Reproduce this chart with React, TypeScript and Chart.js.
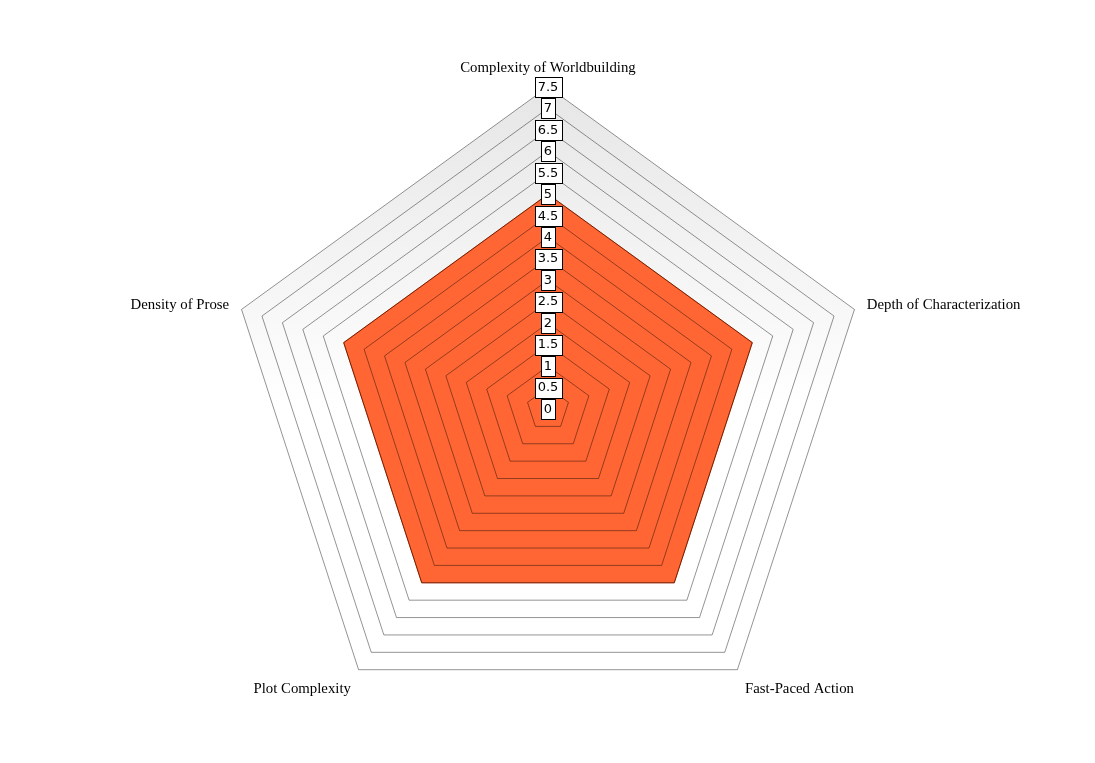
// @ts-nocheck
import { useEffect, useRef } from "react";
import { Chart, registerables } from "chart.js";
Chart.register(...registerables);

const categories = [
  "Complexity of Worldbuilding",
  "Depth of Characterization",
  "Fast-Paced Action",
  "Plot Complexity",
  "Density of Prose",
];
const seriesValues = [5, 5, 5, 5, 5];
const tickValues = [0, 0.5, 1, 1.5, 2, 2.5, 3, 3.5, 4, 4.5, 5, 5.5, 6, 6.5, 7, 7.5];
const tickLabels = ["0", "0.5", "1", "1.5", "2", "2.5", "3", "3.5", "4", "4.5", "5", "5.5", "6", "6.5", "7", "7.5"];

const TICK_FONT = "13px 'DejaVu Sans', sans-serif";
const TICK_SIZE = 13;
const PAD_X = 3;
const PAD_Y = 3.5;

// grey-to-white fill behind the web
const webBackground = {
  id: "webBackground",
  beforeDraw(chart) {
    const scale = chart.scales.r;
    if (!scale) return;
    const ctx = chart.ctx;
    const r = scale.drawingArea;
    const grad = ctx.createLinearGradient(0, scale.yCenter - r, 0, scale.yCenter);
    grad.addColorStop(0, "#e6e6e6");
    grad.addColorStop(1, "#ffffff");
    ctx.save();
    ctx.beginPath();
    for (let i = 0; i < categories.length; i++) {
      const p = scale.getPointPosition(i, r);
      if (i === 0) ctx.moveTo(p.x, p.y);
      else ctx.lineTo(p.x, p.y);
    }
    ctx.closePath();
    ctx.fillStyle = grad;
    ctx.fill();
    ctx.restore();
  },
};

// boxed tick labels, drawn on top of everything
const boxedTicks = {
  id: "boxedTicks",
  afterDraw(chart) {
    const scale = chart.scales.r;
    if (!scale) return;
    const ctx = chart.ctx;
    ctx.save();
    ctx.font = TICK_FONT;
    ctx.textAlign = "center";
    ctx.textBaseline = "middle";
    tickValues.forEach((v, i) => {
      const label = tickLabels[i];
      const y = scale.yCenter - scale.getDistanceFromCenterForValue(v);
      const x = scale.xCenter;
      const w = ctx.measureText(label).width;
      const left = Math.round(x - w / 2 - PAD_X) + 0.5;
      const top = Math.round(y - TICK_SIZE / 2 - PAD_Y) + 0.5;
      const bw = Math.round(w + PAD_X * 2);
      const bh = Math.round(TICK_SIZE + PAD_Y * 2);
      ctx.fillStyle = "#ffffff";
      ctx.fillRect(left, top, bw, bh);
      ctx.strokeStyle = "#000000";
      ctx.lineWidth = 1;
      ctx.strokeRect(left, top, bw, bh);
      ctx.fillStyle = "#000000";
      ctx.fillText(label, x, y + 0.5);
    });
    ctx.restore();
  },
};

export default function App() {
  const chartRef = useRef(null);
  const chartInstance = useRef(null);

  useEffect(() => {
    const ctx = chartRef.current?.getContext("2d");
    chartInstance.current = new Chart(ctx, {
      type: "radar",
      data: {
        labels: categories,
        datasets: [
          {
            label: "Series",
            data: seriesValues,
            backgroundColor: "#ff6633",
            borderColor: "#cc3300",
            borderWidth: 1,
            pointRadius: 0,
            fill: true,
          },
        ],
      },
      options: {
        animation: false,
        responsive: true,
        maintainAspectRatio: false,
        layout: { padding: { top: 51, bottom: 12, left: 1, right: 0 } },
        plugins: {
          legend: { display: false },
          tooltip: { enabled: false },
        },
        elements: { line: { tension: 0 } },
        scales: {
          r: {
            min: 0,
            max: 7.5,
            afterBuildTicks: (scale) => {
              scale.ticks = tickValues.map((v) => ({ value: v }));
            },
            angleLines: { display: false },
            grid: { color: "rgba(0,0,0,0.42)", lineWidth: 1, z: 1 },
            ticks: {
              display: true,
              color: "rgba(0,0,0,0)",
              showLabelBackdrop: false,
              font: { size: TICK_SIZE, family: "'DejaVu Sans', sans-serif" },
              backdropPadding: { x: PAD_X, y: PAD_Y },
            },
            pointLabels: {
              color: "#000000",
              padding: (c) => (c.index === 0 ? 0 : 3),
              // side labels sit level with their vertex
              font: (c) => ({
                size: 14.8,
                family: "'Liberation Serif', serif",
                lineHeight: c.index === 1 || c.index === 4 ? 0 : 1.2,
              }),
            },
          },
        },
      },
      plugins: [webBackground, boxedTicks],
    });

    return () => {
      chartInstance.current?.destroy();
    };
  }, []);

  return (
    <div style={{ position: "absolute", left: 0, top: 0, width: 1095, height: 763, background: "#ffffff" }}>
      <canvas ref={chartRef} />
    </div>
  );
}
